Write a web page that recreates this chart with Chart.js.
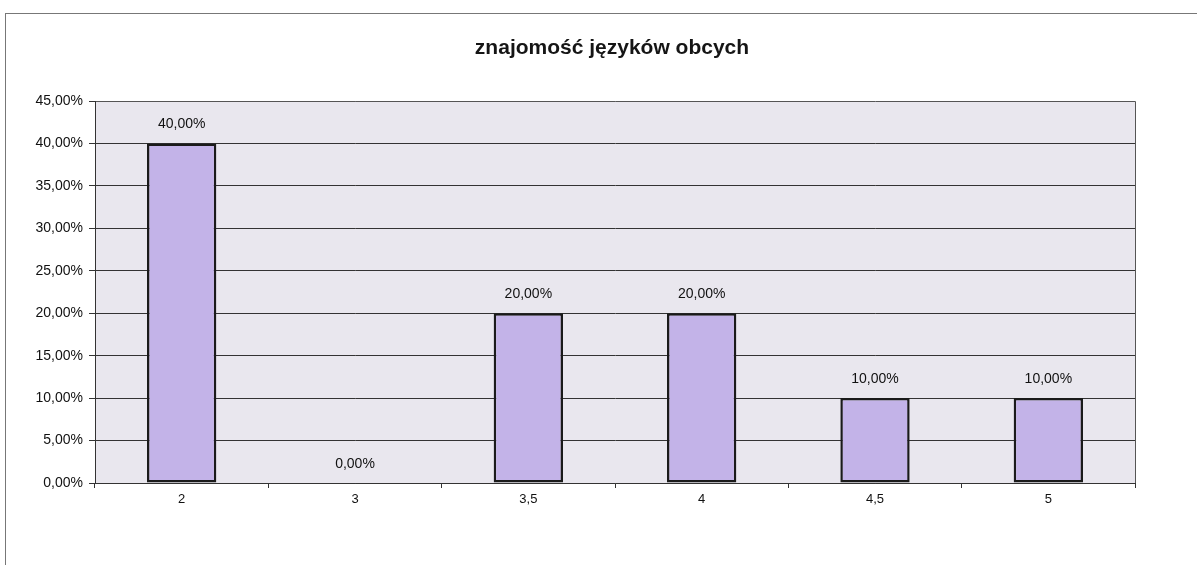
<!DOCTYPE html>
<html>
<head>
<meta charset="utf-8">
<script src="https://cdn.jsdelivr.net/npm/chart.js@4.4.1/dist/chart.umd.min.js"></script>
<style>
  body { margin: 0; background: #fff; overflow: hidden; }
  #frame { position: absolute; left: 5px; top: 13px; width: 1300px; height: 700px; border-left: 1px solid #777; border-top: 1px solid #777; }
  #wrap { position: absolute; left: 0; top: 0; width: 1197px; height: 565px; }
</style>
</head>
<body>
<div id="frame"></div>
<div id="wrap"><canvas id="chart" width="1197" height="565"></canvas></div>
<script>
// chart data
const categories = ["2", "3", "3,5", "4", "4,5", "5"];
const shares = [40, 0, 20, 20, 10, 10];
const yTicks = [0, 5, 10, 15, 20, 25, 30, 35, 40, 45];
const chartTitle = "znajomość języków obcych";

const FONT = "'Liberation Sans', Arial, sans-serif";
const fmt = v => v.toFixed(2).replace(".", ",") + "%";

// grey plot background + title
const plotBg = {
    id: "plotBg",
    beforeDraw(chart) {
        const { ctx, chartArea: a } = chart;
        ctx.save();
        ctx.fillStyle = "#e9e7ee";
        ctx.fillRect(a.left, a.top, a.right - a.left, a.bottom - a.top);
        ctx.strokeStyle = "#555";
        ctx.lineWidth = 1;
        ctx.beginPath();
        ctx.moveTo(a.left, a.top + 0.5);
        ctx.lineTo(a.right + 0.5, a.top + 0.5);
        ctx.lineTo(a.right + 0.5, a.bottom);
        ctx.stroke();

        ctx.font = "bold 21px " + FONT;
        ctx.fillStyle = "#151515";
        ctx.textAlign = "center";
        ctx.textBaseline = "middle";
        ctx.fillText(chartTitle, 612, 48);
        ctx.restore();
    }
};

// value labels above bars
const valueLabels = {
    id: "valueLabels",
    afterDatasetsDraw(chart) {
        const { ctx } = chart;
        const meta = chart.getDatasetMeta(0);
        ctx.save();
        ctx.font = "14px " + FONT;
        ctx.fillStyle = "#111";
        ctx.textAlign = "center";
        ctx.textBaseline = "middle";
        meta.data.forEach((bar, i) => {
            ctx.fillText(fmt(shares[i]), bar.x, bar.y - 19);
        });
        ctx.restore();
    }
};

const ctx = document.getElementById("chart").getContext("2d");

new Chart(ctx, {
    type: "bar",
    data: {
        labels: categories,
        datasets: [{
            data: shares,
            backgroundColor: "#c3b3e8",
            borderColor: "#1a1a1a",
            borderWidth: 2.5,
            borderSkipped: false,
            barPercentage: 0.4,
            categoryPercentage: 1
        }]
    },
    options: {
        responsive: false,
        animation: false,
        layout: { padding: { left: 0, right: 62, bottom: 0, top: 101 } },
        plugins: {
            legend: { display: false },
            tooltip: { enabled: false },
            title: { display: false }
        },
        scales: {
            x: {
                offset: true,
                grid: { drawOnChartArea: false, offset: true, tickLength: 5, color: "#333" },
                border: { color: "#333", width: 1 },
                ticks: {
                    color: "#111",
                    padding: 4,
                    font: { family: FONT, size: 13 }
                },
                afterFit: s => { s.height = 82; }
            },
            y: {
                min: 0,
                max: 45,
                afterBuildTicks: s => { s.ticks = yTicks.map(v => ({ value: v })); },
                grid: {
                    color: c => c.tick.value === 45 ? "rgba(0,0,0,0)" : "#333",
                    tickColor: "#333",
                    tickLength: 6
                },
                border: { color: "#333", width: 1 },
                ticks: {
                    color: "#111",
                    padding: 6,
                    callback: v => fmt(v),
                    font: { family: FONT, size: 14 }
                },
                afterFit: s => { s.width = 95; }
            }
        }
    },
    plugins: [plotBg, valueLabels]
});
</script>
</body>
</html>
